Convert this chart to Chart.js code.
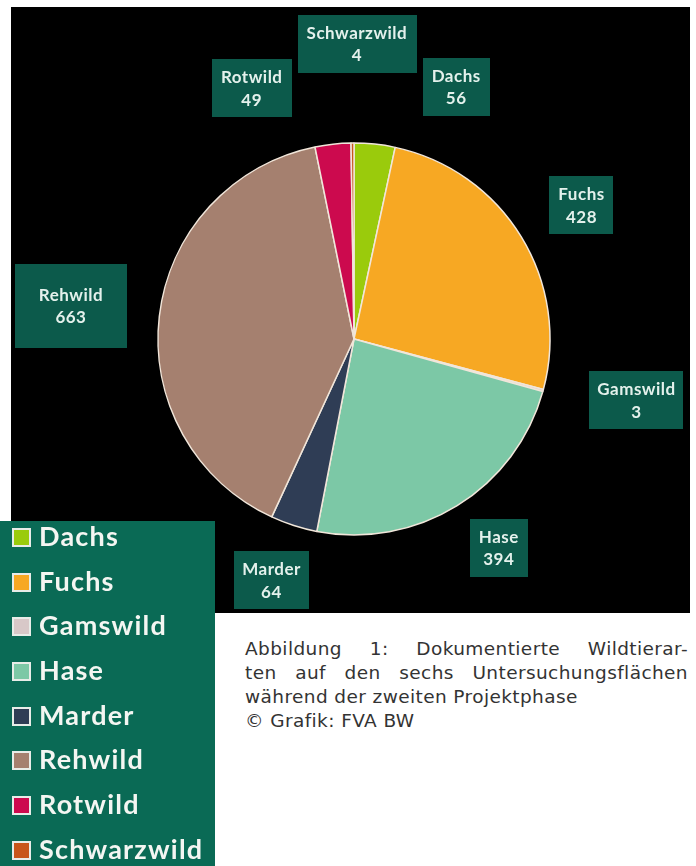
<!DOCTYPE html>
<html>
<head>
<meta charset="utf-8">
<script src="https://cdn.jsdelivr.net/npm/chart.js@4/dist/chart.umd.min.js"></script>
<style>
  body { margin: 0; background: #fff; width: 696px; height: 866px; position: relative; overflow: hidden; }
  #chartBox { position: absolute; left: 11px; top: 7px; width: 679px; height: 606px; background: #000; }
  #legend { position: absolute; left: 0; top: 521px; width: 215px; height: 345px; background: #0a6a55; z-index: 2; }
  #legend ul { list-style: none; margin: -2px 0 0 0; padding: 0; }
  #legend li { height: 44.7px; line-height: 44.7px; font: bold 27px Lato, sans-serif; letter-spacing: 1.2px; color: #f4f6f2; white-space: nowrap; }
  #legend li span { display: inline-block; width: 15px; height: 15px; border: 2px solid #e8ece8; margin: 0 8px 0 12px; vertical-align: -1px; }
  #caption { position: absolute; left: 245px; top: 637px; width: 443px; font: 18.5px "DejaVu Sans", Verdana, sans-serif; letter-spacing: 0.4px; line-height: 24px; color: #333; }
  #caption div { white-space: nowrap; }
  #caption div.j { text-align: justify; text-align-last: justify; }
</style>
</head>
<body>
<div id="chartBox"><canvas id="pie" width="679" height="606"></canvas></div>
<div id="legend"><ul id="legendList"></ul></div>
<div id="caption">
  <div class="j">Abbildung 1: Dokumentierte Wildtierar-</div>
  <div class="j">ten auf den sechs Untersuchungsflächen</div>
  <div>während der zweiten Projektphase</div>
  <div>© Grafik: FVA BW</div>
</div>
<script>
const species = ["Dachs", "Fuchs", "Gamswild", "Hase", "Marder", "Rehwild", "Rotwild", "Schwarzwild"];
const counts = [56, 428, 3, 394, 64, 663, 49, 4];

// styling
const sliceColors = ["#9acb0c", "#f7a823", "#d8c8c8", "#7cc8a6", "#2f3d55", "#a5806f", "#cc0a4e", "#c8561a"];
// label placement: angle shift (deg) from slice middle and distance beyond the rim
const calloutShift = [16, 1, -3, -3, 1, 0, -16, 1];
const calloutDist = [76, 68, 93, 58, 59, 89, 75, 99];
const calloutPad = [[9, 7], [9, 7], [8, 7], [9, 7], [8, 7], [24, 20], [9, 7], [9, 7]];

const calloutPlugin = {
  id: 'callouts',
  afterDatasetsDraw(chart) {
    const ctx = chart.ctx;
    const meta = chart.getDatasetMeta(0);
    ctx.save();
    ctx.font = 'bold 17px Lato, sans-serif';
    ctx.letterSpacing = '0.5px';
    ctx.textAlign = 'center';
    ctx.textBaseline = 'middle';
    meta.data.forEach((arc, i) => {
      const mid = (arc.startAngle + arc.endAngle) / 2 + calloutShift[i] * Math.PI / 180;
      const r = arc.outerRadius + calloutDist[i];
      const x = arc.x + r * Math.cos(mid);
      const y = arc.y + r * Math.sin(mid);
      const lines = [species[i], String(counts[i])];
      const w = Math.max(...lines.map(t => ctx.measureText(t).width)) + 2 * calloutPad[i][0];
      const h = 2 * 22 + 2 * calloutPad[i][1];
      ctx.fillStyle = '#0c5a4b';
      ctx.fillRect(Math.round(x - w / 2), Math.round(y - h / 2), Math.round(w), Math.round(h));
      ctx.fillStyle = '#e4f1ec';
      ctx.fillText(lines[0], x, y - 10.5);
      ctx.fillText(lines[1], x, y + 12);
    });
    ctx.restore();
  }
};

const pieChart = new Chart(document.getElementById('pie'), {
  type: 'pie',
  data: {
    labels: species,
    datasets: [{
      data: counts,
      backgroundColor: sliceColors,
      borderColor: '#f1e6da',
      borderWidth: 1.5,
      radius: 196
    }]
  },
  options: {
    responsive: false,
    animation: false,
    devicePixelRatio: 1,
    layout: { padding: { left: 150, right: 143, top: 136, bottom: 78 } },
    plugins: {
      legend: { display: false },
      tooltip: { enabled: false }
    }
  },
  plugins: [calloutPlugin]
});

const list = document.getElementById('legendList');
species.forEach((name, i) => {
  const li = document.createElement('li');
  const sw = document.createElement('span');
  sw.style.background = sliceColors[i];
  li.appendChild(sw);
  li.appendChild(document.createTextNode(name));
  list.appendChild(li);
});
</script>
</body>
</html>
